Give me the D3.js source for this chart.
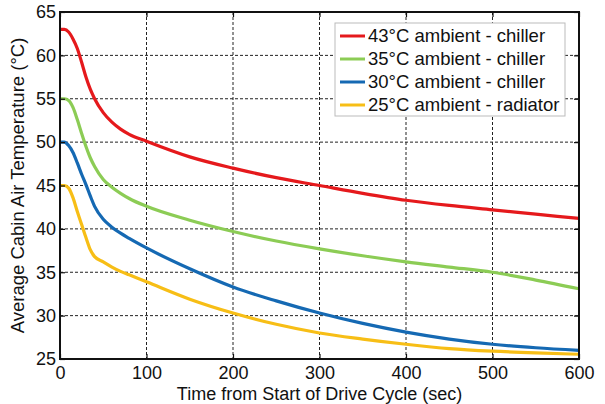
<!DOCTYPE html>
<html>
<head>
<meta charset="utf-8">
<style>
  body { margin: 0; background: #fff; }
  svg text { font-family: "Liberation Sans", Arial, sans-serif; fill: #111; }
</style>
</head>
<body>
<svg width="605" height="404"></svg>
<script src="https://d3js.org/d3.v7.min.js"></script>
<script>

  // time axis (sec)
  var times = [0, 5, 10, 15, 20, 25, 30, 35, 40, 50, 60, 70, 80, 100, 150, 200, 250, 300, 350, 400, 450, 500, 550, 600];

  var temp43 = [63, 63, 62.7, 61.9, 60.8, 59.2, 57.5, 56.1, 55, 53.4, 52.3, 51.5, 50.9, 50.1, 48.3, 47, 45.9, 45, 44.1, 43.3, 42.7, 42.2, 41.7, 41.2];
  var temp35 = [55, 55, 54.8, 54, 52.6, 51, 49.5, 48.2, 47.2, 45.7, 44.8, 44.1, 43.5, 42.6, 41, 39.7, 38.6, 37.7, 36.9, 36.2, 35.6, 35, 34.1, 33.1];
  var temp30 = [50, 50, 49.6, 48.8, 47.6, 46.3, 45.1, 43.8, 42.6, 41.1, 40.2, 39.5, 38.9, 37.8, 35.4, 33.3, 31.7, 30.3, 29.1, 28.1, 27.3, 26.7, 26.3, 26];
  var temp25 = [45, 45, 44.7, 43.6, 42, 40.5, 39, 37.6, 36.8, 36.2, 35.6, 35.1, 34.7, 33.9, 31.9, 30.3, 29, 28, 27.3, 26.7, 26.2, 25.9, 25.7, 25.55];

  var seriesNames = ["43°C ambient - chiller", "35°C ambient - chiller", "30°C ambient - chiller", "25°C ambient - radiator"];
  var seriesColors = ["#e5191c", "#8ccc55", "#1569b3", "#f7be16"];

  var xTicks = [0, 100, 200, 300, 400, 500, 600];
  var yTicks = [25, 30, 35, 40, 45, 50, 55, 60, 65];

  var series = [temp43, temp35, temp30, temp25].map(function(vals, i) {
    return { name: seriesNames[i], color: seriesColors[i],
             pts: vals.map(function(v, j) { return [times[j], v]; }) };
  });

  var svg = d3.select("svg"),
      pL = 60, pR = 579, pT = 12, pB = 359;

  var x = d3.scaleLinear().domain([0, 600]).range([pL, pR]),
      y = d3.scaleLinear().domain([25, 65]).range([pB, pT]);

  // grid
  var grid = svg.append("g").attr("stroke", "#222").attr("stroke-width", 1).attr("stroke-dasharray", "3,2");
  grid.selectAll(".gx").data(xTicks.slice(1, -1)).enter().append("line")
      .attr("x1", function(d) { return x(d); }).attr("x2", function(d) { return x(d); })
      .attr("y1", pT).attr("y2", pB);
  grid.selectAll(".gy").data(yTicks.slice(1, -1)).enter().append("line")
      .attr("y1", function(d) { return y(d); }).attr("y2", function(d) { return y(d); })
      .attr("x1", pL).attr("x2", pR);

  // lines
  var line = d3.line()
      .x(function(d) { return x(d[0]); })
      .y(function(d) { return y(d[1]); })
      .curve(d3.curveMonotoneX);

  svg.append("g").selectAll("path").data(series).enter().append("path")
      .attr("fill", "none")
      .attr("stroke", function(d) { return d.color; })
      .attr("stroke-width", 3.2)
      .attr("stroke-linejoin", "round")
      .attr("d", function(d) { return line(d.pts); });

  // axes (inward ticks on all four sides)
  var axB = d3.axisBottom(x).tickValues(xTicks).tickSizeInner(-5).tickSizeOuter(0).tickPadding(7);
  var axL = d3.axisLeft(y).tickValues(yTicks).tickSizeInner(-5).tickSizeOuter(0).tickPadding(4);
  var axT = d3.axisTop(x).tickValues(xTicks).tickSizeInner(-5).tickSizeOuter(0).tickFormat("");
  var axR = d3.axisRight(y).tickValues(yTicks).tickSizeInner(-5).tickSizeOuter(0).tickFormat("");

  svg.append("g").attr("transform", "translate(0," + pB + ")").call(axB);
  svg.append("g").attr("transform", "translate(" + pL + ",0)").call(axL);
  svg.append("g").attr("transform", "translate(0," + pT + ")").call(axT);
  svg.append("g").attr("transform", "translate(" + pR + ",0)").call(axR);

  svg.selectAll(".domain").remove();
  svg.selectAll(".tick line").attr("stroke", "#111").attr("stroke-width", 1.2);
  svg.selectAll(".tick text").style("font-size", "18px").attr("fill", "#111");

  svg.append("rect")
      .attr("x", pL).attr("y", pT)
      .attr("width", pR - pL).attr("height", pB - pT)
      .attr("fill", "none").attr("stroke", "#111").attr("stroke-width", 2);

  // titles
  svg.append("text")
      .attr("x", (pL + pR) / 2).attr("y", 400)
      .attr("text-anchor", "middle")
      .style("font-size", "18px")
      .text("Time from Start of Drive Cycle (sec)");

  svg.append("text")
      .attr("transform", "translate(24," + (pT + pB) / 2 + ") rotate(-90)")
      .attr("text-anchor", "middle")
      .style("font-size", "18.5px")
      .text("Average Cabin Air Temperature (°C)");

  // legend
  var lg = svg.append("g");
  lg.append("rect")
      .attr("x", 335).attr("y", 23).attr("width", 230).attr("height", 93)
      .attr("fill", "#fff").attr("stroke", "#bbb").attr("stroke-width", 1);

  var item = lg.selectAll(".item").data(series).enter().append("g")
      .attr("transform", function(d, i) { return "translate(340," + (36 + i * 23) + ")"; });
  item.append("line")
      .attr("x1", 0).attr("x2", 25)
      .attr("stroke", function(d) { return d.color; })
      .attr("stroke-width", 3);
  item.append("text")
      .attr("x", 28).attr("dy", "0.35em")
      .style("font-size", "18.5px")
      .text(function(d) { return d.name; });

</script>
</body>
</html>
